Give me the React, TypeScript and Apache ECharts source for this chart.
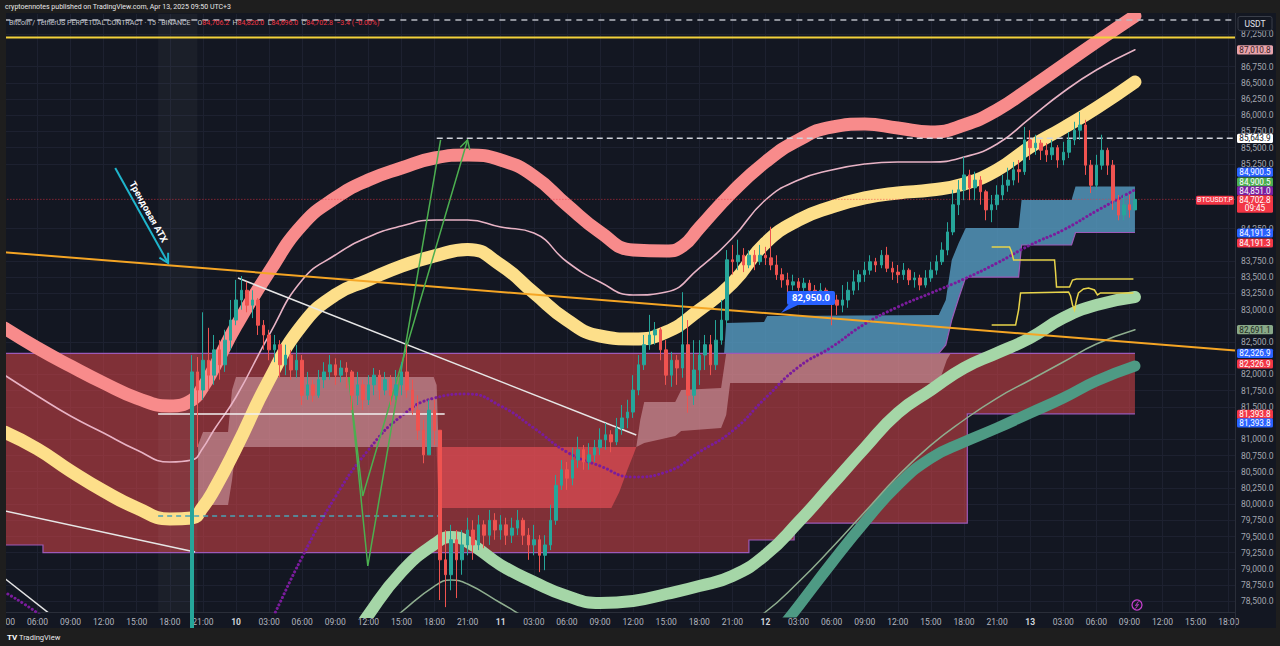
import React, { useEffect, useRef } from "react";
import * as echarts from "echarts";

// Time axis: hours counted from 2025-04-09 00:00 (UTC+3). Prices in USDT.
const X_MIN = 3;
const X_MAX = 114.57;
const Y_MIN = 78335;
const Y_MAX = 87563;

const timeTicks = [3, 6, 9, 12, 15, 18, 21, 24, 27, 30, 33, 36, 39, 42, 45, 48, 51, 54, 57, 60, 63, 66, 69, 72, 75, 78, 81, 84, 87, 90, 93, 96, 99, 102, 105, 108, 111, 114];
const dayLabels: Record<number, string> = { 24: "10", 48: "11", 72: "12", 96: "13" };
// scale labels that are not hidden behind the value badges
const priceTicks = [78500, 78750, 79000, 79250, 79500, 79750, 80000, 80250, 80500, 80750, 81000, 81500, 81750, 82000, 82500, 83000, 83250, 83500, 83750, 84250, 85250, 85500, 85750, 86000, 86250, 86500, 86750, 87250];

// BTCUSDT.P candles from Apr 9 20:00, one every 30 minutes: [close, low, high]; open = previous close
const candleStartHour = 20;
const candleStepHours = 0.5;
const firstOpen = 77100;
const candlesApr9 = [
  [82040, 76800, 82300], [81760, 80880, 82270], [82220, 81610, 82960], [81990, 81760, 82720],
  [82380, 81840, 82610], [82150, 81920, 82530], [82530, 82040, 82690], [82840, 82380, 83150],
];
const candlesApr10 = [
  [83150, 82760, 83460], [83300, 83000, 83520], [83070, 82960, 83430], [83150, 82870, 83300],
  [82760, 82610, 83180], [82610, 82380, 82840], [82380, 82220, 82690], [82460, 82190, 82610],
  [82150, 81950, 82530], [82300, 81990, 82460], [82070, 81920, 82380], [82220, 81950, 82460],
  [81680, 81530, 82300], [81840, 81610, 82040], [81680, 81580, 81920], [81920, 81640, 82070],
  [82040, 81790, 82190], [82150, 81920, 82300], [81990, 81840, 82250], [82100, 81880, 82220],
  [82040, 81790, 82190], [81680, 81450, 82070], [81840, 81530, 82040], [81610, 81450, 81920],
  [81840, 81530, 81990], [81990, 81680, 82100], [81760, 81610, 82070], [81920, 81680, 82040],
  [81680, 81530, 81990], [81840, 81610, 82070], [82040, 81680, 82190], [81760, 81640, 82460],
  [81450, 81380, 81920], [81140, 80990, 81680], [80760, 80630, 81300], [81450, 80760, 81610],
  [81140, 80910, 81610], [79140, 78520, 80990], [78910, 78410, 79600], [79450, 78670, 79680],
  [79140, 78550, 79600], [79370, 78910, 79600], [79600, 79210, 79790], [79370, 79140, 79750],
  [79680, 79290, 79830], [79520, 79320, 79750], [79750, 79370, 79910], [79600, 79450, 79860],
];
const candlesApr11 = [
  [79680, 79450, 79830], [79520, 79370, 79790], [79630, 79400, 79790], [79750, 79520, 79910],
  [79520, 79370, 79790], [79370, 79140, 79630], [79450, 79210, 79680], [79210, 78950, 79520],
  [79370, 78980, 79520], [79750, 79290, 79990], [80290, 79680, 80450], [80530, 80220, 80680],
  [80400, 80220, 80650], [80680, 80290, 80870], [80840, 80560, 81040], [80650, 80530, 80910],
  [80760, 80530, 80940], [80870, 80650, 80990], [80990, 80760, 81170], [81070, 80840, 81250],
  [80960, 80800, 81140], [81170, 80910, 81330], [81330, 81070, 81530], [81420, 81170, 81610],
  [81760, 81330, 81990], [82150, 81680, 82300], [82460, 82070, 82610], [82610, 82380, 82920],
  [82690, 82460, 82810], [82380, 82220, 82730], [81990, 81840, 82530], [82220, 81810, 82350],
  [82100, 81840, 82300], [82460, 81950, 83270], [81680, 81410, 82840], [82070, 81530, 82530],
  [82300, 81840, 82530], [82460, 82070, 82610], [82150, 81990, 82610], [82530, 82070, 82840],
  [82840, 82460, 83150], [83770, 82760, 83920], [83740, 83540, 84000], [83840, 83610, 84080],
  [83690, 83580, 83950], [83840, 83640, 83920], [83740, 83610, 83920], [83840, 83690, 84000],
];
const candlesApr12 = [
  [83800, 83690, 83970], [83690, 83610, 84280], [83540, 83460, 83840], [83460, 83340, 83640],
  [83380, 83270, 83570], [83430, 83300, 83540], [83340, 83230, 83490], [83410, 83260, 83490],
  [83300, 83210, 83460], [83260, 83150, 83380], [83300, 83180, 83410], [83210, 83150, 83340],
  [83150, 82760, 83270], [83070, 82920, 83230], [83150, 82960, 83380], [83300, 83030, 83430],
  [83430, 83230, 83610], [83540, 83300, 83610], [83610, 83430, 83740], [83740, 83540, 83840],
  [83690, 83580, 83800], [83840, 83640, 83920], [83640, 83580, 83970], [83580, 83460, 83740],
  [83540, 83410, 83690], [83610, 83460, 83720], [83460, 83380, 83640], [83490, 83340, 83580],
  [83380, 83300, 83540], [83490, 83340, 83610], [83610, 83430, 83740], [83740, 83540, 83840],
  [83920, 83690, 84040], [84200, 83840, 84350], [84620, 84150, 84850], [84850, 84460, 85000],
  [85080, 84690, 85360], [84880, 84690, 85160], [85000, 84690, 85130], [84820, 84620, 85060],
  [84540, 84380, 84850], [84620, 84350, 84770], [84770, 84540, 84920], [84920, 84690, 85080],
  [85000, 84820, 85190], [85160, 84920, 85280], [85130, 84960, 85310], [85620, 85080, 85820],
];
const candlesApr13 = [
  [85500, 85310, 85770], [85570, 85390, 85700], [85460, 85310, 85620], [85390, 85280, 85570],
  [85500, 85310, 85620], [85310, 85190, 85540], [85430, 85230, 85590], [85620, 85340, 85740],
  [85770, 85540, 85900], [85850, 85620, 86050], [85230, 85080, 85930], [84920, 84800, 85310],
  [85230, 84850, 85390], [85460, 85160, 85700], [85230, 85080, 85500], [84690, 84540, 85310],
  [84460, 84380, 84770], [84620, 84380, 84770], [84540, 84420, 84770], [84702.8, 84590, 84820],
];

// Envelope bands and moving average: [hour, price]
const upperOuter = [
  [3, 82717], [6, 82409], [9, 82131], [12, 81869], [15, 81637], [18, 81514], [20, 81606], [21, 81807],
  [22, 82100], [24, 82748], [27, 83581], [30, 84307], [33, 84724], [36, 85001], [39, 85186], [42, 85341],
  [45, 85387], [48, 85310], [51, 85063], [54, 84615], [57, 84197], [60, 83921], [63, 83905], [64.5, 83983],
  [66, 84261], [69, 84816], [72, 85279], [75, 85619], [78, 85819], [81, 85865], [84, 85804], [87, 85742],
  [90, 85850], [93, 86082], [96, 86421], [99, 86776], [102, 87131], [105.5, 87532],
];
const upperInner = [
  [3, 81992], [6, 81668], [9, 81359], [12, 81097], [15, 80835], [18, 80649], [20, 80680], [21, 80866],
  [22, 81143], [24, 81653], [27, 82609], [30, 83458], [33, 83844], [36, 84122], [39, 84291], [42, 84384],
  [45, 84384], [48, 84276], [51, 84183], [54, 83740], [57, 83427], [60, 83227], [63, 83273], [66, 83643],
  [69, 84107], [72, 84693], [75, 85001], [78, 85156], [81, 85248], [84, 85279], [87, 85279], [90, 85356],
  [93, 85557], [96, 85958], [99, 86359], [102, 86699], [105.5, 87010.8],
];
const midBand = [
  [3, 81112], [6, 80850], [9, 80511], [12, 80202], [15, 79940], [18, 79770], [20, 79785], [21, 79955],
  [22, 80217], [24, 80866], [27, 81915], [30, 82764], [33, 83227], [36, 83458], [39, 83674], [42, 83830],
  [45, 83930], [48, 83690], [51, 83260], [54, 82841], [57, 82594], [60, 82548], [63, 82655], [66, 82995],
  [69, 83412], [72, 84029], [75, 84384], [78, 84585], [81, 84724], [84, 84801], [87, 84847], [90, 84940],
  [93, 85156], [96, 85510], [99, 85804], [102, 86112], [105.5, 86514],
];
const lowerInner = [
  [33, 77517], [36, 78288], [39, 78952], [42, 79384], [43.5, 79492], [45, 79415], [48, 79060], [51, 78798],
  [54, 78582], [57, 78474], [60, 78505], [63, 78613], [66, 78736], [69, 78891], [72, 79215], [75, 79724],
  [78, 80294], [81, 80866], [84, 81406], [87, 81761], [90, 82100], [93, 82332], [96, 82563], [99, 82872],
  [102, 83072], [105.5, 83196],
];
const lowerThin = [
  [36, 77903], [39, 78335], [42, 78736], [43.5, 78828], [45, 78767], [48, 78474], [51, 78180], [54, 77933],
  [57, 77779], [60, 77748], [63, 77779], [66, 77871], [69, 78026], [72, 78335], [75, 78798], [78, 79322],
  [81, 79878], [84, 80433], [87, 80911], [90, 81298], [93, 81637], [96, 81915], [99, 82193], [102, 82470],
  [105.5, 82691.1],
];
const lowerOuter = [
  [69, 77131], [72, 77779], [75, 78427], [78, 79091], [81, 79724], [84, 80294], [87, 80711], [90, 80958],
  [93, 81174], [96, 81406], [99, 81637], [102, 81899], [105.5, 82131],
];
const trendMA = [
  [3, 78643], [6, 78319], [9, 77903], [12, 77470], [15, 77131], [18, 76899], [21, 76791], [24, 77131],
  [27, 78134], [30, 79183], [33, 80109], [36, 80835], [39, 81359], [42, 81637], [45, 81699], [48, 81514],
  [51, 81174], [54, 80804], [57, 80588], [60, 80418], [63, 80495], [66, 80804], [69, 81128], [72, 81637],
  [75, 82116], [78, 82424], [81, 82779], [84, 83042], [87, 83257], [90, 83473], [93, 83720], [96, 83998],
  [99, 84230], [102, 84523], [105.5, 84851],
];

// Supply zone: flat top, stepped bottom [from hour, price]
const zoneTop = 82326.9;
const zoneBottomSteps = [[3, 79369], [6.5, 79250], [70.5, 79446], [74.6, 79708], [90.3, 81393.8]];
const zoneEnd = 105.5;

// Trailing clouds: [hour, lower, upper]
const cloudBearLeft = [
  [20.56, 79986, 80912], [21.01, 79986, 81112], [23.28, 79986, 81112], [23.64, 80372, 81761],
  [24.0, 80880, 81961], [41.92, 80880, 81961], [42.19, 80880, 81838], [42.37, 80880, 80880],
];
const cloudBearDeep = [
  [42.19, 80835, 80880], [42.37, 79940, 80880], [58.03, 79940, 80880], [58.75, 80186, 80880],
  [59.48, 80526, 80880], [60.02, 80757, 80880], [60.29, 80880, 80880],
];
const cloudBearRight = [
  [60.29, 80880, 80880], [60.65, 80912, 81298], [61.01, 80943, 81575], [63.82, 81051, 81575],
  [64.36, 81128, 81761], [67.98, 81174, 81791], [68.44, 81375, 82327], [68.8, 81869, 82327],
  [87.71, 81869, 82327], [88.44, 82224, 82327], [88.8, 82327, 82327],
];
const cloudBull = [
  [68.25, 82327, 82327], [68.44, 82327, 82795], [71.87, 82327, 82810], [72.15, 82327, 82903],
  [87.71, 82327, 82918], [88.35, 82455, 83150], [88.89, 82841, 83767], [89.52, 83180, 84029],
  [90.16, 83504, 84261], [94.95, 83504, 84261], [95.22, 83998, 84693], [99.75, 83998, 84693],
  [100.11, 84191.3, 84900.5], [105.5, 84191.3, 84900.5],
];
const sessionShade = [16.94, 20.5];

// Hand-drawn lines: [hour, price]
const trendOrange = [[2.64, 83891], [114.57, 82370]];
const whiteTrend1 = [[24.18, 83489], [60.29, 81066]];
const whiteTrend2 = [[2.64, 79909], [20.29, 79261]];
const whiteTrend3 = [[2.64, 78906], [8.98, 78057]];
const whiteLevel = [[16.94, 81391], [42.92, 81391]];
const cyanLevel = [[16.94, 79817], [42.47, 79817]];
const greenPathA = [[34.23, 81961], [35.49, 80125], [44.99, 85619]];
const greenPathB = [[34.23, 81961], [35.95, 79045], [42.55, 85619]];
const atxArrow = [[13.05, 85186], [17.85, 83720]];
const yellowStep1 = [
  [92.51, 83967], [94.13, 83967], [94.32, 83890], [94.5, 83767], [98.21, 83767], [98.3, 83581],
  [98.39, 83350], [99.57, 83350], [99.84, 83458], [100.2, 83474], [105.36, 83474],
];
const yellowStep2 = [
  [92.51, 82764], [94.68, 82764], [94.95, 82995], [95.13, 83258], [99.48, 83273], [99.66, 83211],
  [99.84, 83072], [100.02, 82995], [100.2, 83149], [100.38, 83258], [100.83, 83319], [101.29, 83335],
  [101.83, 83304], [102.1, 83227], [102.37, 83258], [105.36, 83258],
];

// Horizontal levels
const lastPrice = 84702.8;
const highLevel = 85643.9;
const highLevelStart = 42.2;
const topLevel = 87470;
const yellowLevel = 87200;
const calloutPoint = [73.41, 82950];

// Price-scale badges: value and badge kind
const badgeValues = [87010.8, 85643.9, 84900.5, 84900.5, 84851.0, 84191.3, 84191.3, 82691.1, 82326.9, 82326.9, 81393.8, 81393.8];
const badgeKinds = ["pink", "white", "blue", "green", "purple", "blue", "red", "sage", "blue", "red", "red", "blue"];

const FONT = "Roboto, 'Noto Sans', sans-serif";

const fmtPrice = (v: number) => {
  const [i, d] = v.toFixed(1).split(".");
  return i.replace(/\B(?=(\d{3})+(?!\d))/g, ",") + "." + d;
};

function buildCandles() {
  const all = [...candlesApr9, ...candlesApr10, ...candlesApr11, ...candlesApr12, ...candlesApr13];
  let prev = firstOpen;
  return all.map(([c, l, h], i) => {
    const o = prev;
    prev = c;
    return [candleStartHour + i * candleStepHours, o, c, Math.min(l, o, c), Math.max(h, o, c)];
  });
}

function stepLine(steps: number[][], end: number) {
  const out: number[][] = [];
  steps.forEach(([t, v], i) => {
    const next = i + 1 < steps.length ? steps[i + 1][0] : end;
    out.push([t, v], [next, v]);
  });
  return out;
}

// polygon between an upper and a lower polyline, both in data coordinates
function areaSeries(upper: number[][], lower: number[][], fill: string, z: number) {
  return {
    type: "custom",
    z,
    silent: true,
    clip: true,
    data: [[upper[0][0], upper[0][1]]],
    encode: { x: 0, y: 1 },
    renderItem: (_p: any, api: any) => {
      const top = upper.map((p) => api.coord(p));
      const bot = lower.map((p) => api.coord(p)).reverse();
      return { type: "polygon", shape: { points: top.concat(bot) }, style: { fill } };
    },
  };
}

function cloudSeries(pts: number[][], fill: string, z: number) {
  return areaSeries(pts.map((p) => [p[0], p[2]]), pts.map((p) => [p[0], p[1]]), fill, z);
}

function bandLine(data: number[][], color: string, width: number, z: number, extra: any = {}) {
  return {
    type: "line",
    data,
    z,
    silent: true,
    smooth: 0.5,
    showSymbol: false,
    symbol: "none",
    lineStyle: { color, width, cap: "round", join: "round", ...extra },
  };
}

type Stroke = { pts: number[][]; color: string; width: number; dash?: number[]; arrow?: boolean };

function strokesSeries(strokes: Stroke[], z: number, extras?: (api: any) => any[]) {
  return {
    type: "custom",
    z,
    silent: true,
    clip: true,
    data: [[strokes[0].pts[0][0], strokes[0].pts[0][1]]],
    encode: { x: 0, y: 1 },
    renderItem: (_p: any, api: any) => {
      const children: any[] = [];
      strokes.forEach((s) => {
        const px = s.pts.map((p) => api.coord(p));
        children.push({
          type: "polyline",
          shape: { points: px },
          style: { stroke: s.color, lineWidth: s.width, lineDash: s.dash || null, fill: null },
        });
        if (s.arrow) {
          const a = px[px.length - 1];
          const b = px[px.length - 2];
          const dx = a[0] - b[0];
          const dy = a[1] - b[1];
          const len = Math.hypot(dx, dy) || 1;
          const ux = dx / len;
          const uy = dy / len;
          const back = 9;
          const side = 5;
          children.push({
            type: "polyline",
            shape: {
              points: [
                [a[0] - ux * back - uy * side, a[1] - uy * back + ux * side],
                a,
                [a[0] - ux * back + uy * side, a[1] - uy * back - ux * side],
              ],
            },
            style: { stroke: s.color, lineWidth: s.width, fill: null },
          });
        }
      });
      if (extras) children.push(...extras(api));
      return { type: "group", children };
    },
  };
}

export default function App() {
  const ref = useRef<HTMLDivElement>(null);

  useEffect(() => {
    document.body.style.margin = "0";
    const el = ref.current;
    if (!el) return;
    const chart = echarts.init(el, null, { renderer: "svg" });

    const candles = buildCandles();
    const zoneBottom = stepLine(zoneBottomSteps, zoneEnd);
    const zoneUpper = [[X_MIN, zoneTop], [zoneEnd, zoneTop]];
    const bullBorder = cloudBull.slice(4).map((p) => [p[0], p[1]]);

    const annotation = (api: any) => {
      const a = api.coord(atxArrow[0]);
      const b = api.coord(atxArrow[1]);
      const dx = b[0] - a[0];
      const dy = b[1] - a[1];
      const len = Math.hypot(dx, dy);
      const mx = (a[0] + b[0]) / 2 + (dy / len) * 8;
      const my = (a[1] + b[1]) / 2 - (dx / len) * 8;
      const tip = api.coord(calloutPoint);
      return [
        {
          type: "text",
          x: mx,
          y: my,
          rotation: -Math.atan2(dy, dx),
          style: { text: "Трендовая ATX", fill: "#ffffff", fontSize: 9.5, fontWeight: "bold", fontFamily: FONT, align: "center", verticalAlign: "middle" },
        },
        {
          type: "polygon",
          shape: { points: [tip, [tip[0] + 7, tip[1] - 8], [tip[0] + 17, tip[1] - 8]] },
          style: { fill: "#2962ff" },
        },
        {
          type: "rect",
          shape: { x: tip[0] + 6, y: tip[1] - 22, width: 48, height: 14, r: 2 },
          style: { fill: "#2962ff" },
        },
        {
          type: "text",
          x: tip[0] + 30,
          y: tip[1] - 15,
          style: { text: fmtPrice(calloutPoint[1]), fill: "#ffffff", fontSize: 9.5, fontWeight: "bold", fontFamily: FONT, align: "center", verticalAlign: "middle" },
        },
      ];
    };

    const option: any = {
      animation: false,
      backgroundColor: "#1e1e1e",
      grid: { left: 4.37, right: 45, top: 14, bottom: 34, outerBoundsMode: "none", containLabel: false },
      tooltip: { show: false },
      xAxis: {
        type: "value",
        min: X_MIN,
        max: X_MAX,
        axisLine: { show: true, lineStyle: { color: "#2a2e39" } },
        axisTick: { show: false, customValues: timeTicks },
        axisLabel: {
          customValues: timeTicks,
          color: "#b2b5be",
          fontSize: 8.5,
          fontFamily: FONT,
          margin: 5,
          formatter: (v: number) => {
            const r = Math.round(v);
            if (dayLabels[r]) return `{day|${dayLabels[r]}}`;
            return `${String(r % 24).padStart(2, "0")}:00`;
          },
          rich: { day: { color: "#d1d4dc", fontWeight: "bold", fontSize: 8.5, fontFamily: FONT } },
        },
        splitLine: { show: true, lineStyle: { color: "#1d2130", width: 1 } },
      },
      yAxis: {
        type: "value",
        position: "right",
        min: Y_MIN,
        max: Y_MAX,
        axisLine: { show: false },
        axisTick: { show: false, customValues: priceTicks },
        axisLabel: { customValues: priceTicks, color: "#a3a6af", fontSize: 8.5, fontFamily: FONT, margin: 6, formatter: (v: number) => fmtPrice(v) },
        splitLine: { show: true, lineStyle: { color: "#1d2130", width: 1 } },
      },
      series: [
        areaSeries(zoneUpper, zoneBottom, "rgba(219,70,72,0.55)", 1),
        cloudSeries([[sessionShade[0], Y_MIN, Y_MAX], [sessionShade[1], Y_MIN, Y_MAX]], "rgba(255,255,255,0.035)", 1.2),
        cloudSeries(cloudBearLeft, "rgba(230,190,200,0.45)", 1.4),
        cloudSeries(cloudBearDeep, "rgba(240,82,88,0.6)", 1.4),
        cloudSeries(cloudBearRight, "rgba(230,190,200,0.45)", 1.4),
        cloudSeries(cloudBull, "rgba(88,160,200,0.78)", 1.4),
        strokesSeries(
          [
            { pts: zoneUpper, color: "#9c5ab8", width: 1.2 },
            { pts: zoneBottom, color: "#9c5ab8", width: 1.2 },
            { pts: bullBorder, color: "#9c5ab8", width: 1.2 },
          ],
          1.6
        ),
        bandLine(lowerOuter, "#4e9a84", 11, 3),
        bandLine(lowerThin, "#8fae8f", 1.5, 3),
        bandLine(lowerInner, "#a5d6a7", 12, 3),
        bandLine(upperOuter, "#f88b8b", 13, 3),
        bandLine(upperInner, "#e8b3c5", 1.6, 3),
        bandLine(midBand, "#fddf8a", 13, 3),
        bandLine(trendMA, "#7a1c9c", 3, 3.5, { type: [0.1, 4] }),
        strokesSeries(
          [
            { pts: trendOrange, color: "#f5a524", width: 2 },
            { pts: whiteTrend1, color: "#e6e6e6", width: 1.5 },
            { pts: whiteTrend2, color: "#e6e6e6", width: 1.5 },
            { pts: whiteTrend3, color: "#e6e6e6", width: 1.5 },
            { pts: whiteLevel, color: "#f0f0f0", width: 1.5 },
            { pts: cyanLevel, color: "#4aa3b5", width: 1.5, dash: [5, 4] },
            { pts: greenPathA, color: "#4caf50", width: 1.5, arrow: true },
            { pts: greenPathB, color: "#4caf50", width: 1.5 },
            { pts: atxArrow, color: "#1fb5cc", width: 2, arrow: true },
            { pts: yellowStep1, color: "#e8d44a", width: 1.5 },
            { pts: yellowStep2, color: "#e8d44a", width: 1.5 },
            { pts: [[highLevelStart, highLevel], [X_MAX, highLevel]], color: "#d1d4dc", width: 1.5, dash: [6, 4] },
            { pts: [[X_MIN, topLevel], [X_MAX, topLevel]], color: "#b8bbc2", width: 1.5, dash: [6, 5] },
            { pts: [[X_MIN, yellowLevel], [X_MAX, yellowLevel]], color: "#f2d13a", width: 2 },
            { pts: [[X_MIN, lastPrice], [X_MAX, lastPrice]], color: "rgba(242,54,69,0.75)", width: 1, dash: [1, 2] },
          ],
          4
        ),
        {
          type: "candlestick",
          z: 5,
          silent: true,
          dimensions: ["t", "open", "close", "low", "high"],
          encode: { x: "t", y: ["open", "close", "low", "high"] },
          data: candles,
          barWidth: 3,
          itemStyle: { color: "#26a69a", color0: "#ef5350", borderColor: "#26a69a", borderColor0: "#ef5350", borderWidth: 1 },
        },
        strokesSeries([{ pts: [calloutPoint, calloutPoint], color: "rgba(0,0,0,0)", width: 0 }], 6, annotation),
      ],
    };
    chart.setOption(option);

    const yOf = (p: number) => chart.convertToPixel({ yAxisIndex: 0 }, p) as number;
    const kindStyle: Record<string, [string, string]> = {
      pink: ["#e8a3ab", "#3b1f25"],
      white: ["#ffffff", "#131722"],
      blue: ["#2962ff", "#ffffff"],
      green: ["#4caf50", "#ffffff"],
      purple: ["#7b1fa2", "#ffffff"],
      red: ["#f23645", "#ffffff"],
      sage: ["#88a888", "#1c2a1c"],
    };
    // stacked badges are nudged apart like on the price scale
    const badgeNudges = [0, 0, -14.5, -4.5, 1, 0.5, 10.5, 0, 0, 10.5, 0.5, 9];

    const els: any[] = [];
    const badge = (yc: number, bg: string, fg: string, text: string) => {
      els.push({ type: "rect", z: 210, shape: { x: 1237, y: yc - 4.6, width: 36, height: 9.2, r: 1.5 }, style: { fill: bg } });
      els.push({ type: "text", z: 211, x: 1255, y: yc, style: { text, fill: fg, fontSize: 8.2, fontFamily: FONT, align: "center", verticalAlign: "middle" } });
    };

    // pane background and frame
    els.push({ type: "rect", z: -10, shape: { x: 0, y: 13, width: 1280, height: 615 }, style: { fill: "#131722" } });
    els.push({ type: "rect", z: 200, shape: { x: 0, y: 0, width: 1280, height: 13 }, style: { fill: "#1e1e1e" } });
    els.push({ type: "rect", z: 200, shape: { x: 0, y: 0, width: 6, height: 646 }, style: { fill: "#1e1e1e" } });
    els.push({ type: "rect", z: 200, shape: { x: 1276, y: 0, width: 4, height: 646 }, style: { fill: "#1e1e1e" } });
    els.push({ type: "rect", z: 200, shape: { x: 0, y: 628, width: 1280, height: 18 }, style: { fill: "#1e1e1e" } });
    els.push({ type: "line", z: 150, shape: { x1: 1235.5, y1: 13, x2: 1235.5, y2: 628 }, style: { stroke: "#2a2e39", lineWidth: 1 } });

    els.push({
      type: "text", z: 201, x: 5, y: 6.5,
      style: { text: "cryptoennotes published on TradingView.com, Apr 13, 2025 09:50 UTC+3", fill: "#e8e8e8", fontSize: 7, fontFamily: FONT, verticalAlign: "middle" },
    });
    els.push({
      type: "text", z: 201, x: 9, y: 22.5,
      style: {
        text: "{t|Bitcoin / TetherUS PERPETUAL CONTRACT · 15 · BINANCE}  {k|O}{v|84,706.2} {k|H}{v|84,820.0} {k|L}{v|84,696.0} {k|C}{v|84,702.8} {v|−3.4 (−0.00%)}",
        verticalAlign: "middle",
        rich: {
          t: { fill: "#c4c7cf", fontSize: 7, fontFamily: FONT },
          k: { fill: "#c4c7cf", fontSize: 7, fontFamily: FONT },
          v: { fill: "#f23645", fontSize: 7, fontFamily: FONT },
        },
      },
    });
    els.push({ type: "text", z: 201, x: 7, y: 637, style: { text: "TV", fill: "#ffffff", fontSize: 8, fontWeight: "bold", fontFamily: FONT, verticalAlign: "middle" } });
    els.push({ type: "text", z: 201, x: 19, y: 637, style: { text: "TradingView", fill: "#e8e8e8", fontSize: 7.5, fontFamily: FONT, verticalAlign: "middle" } });

    // currency box
    els.push({ type: "rect", z: 210, shape: { x: 1238, y: 16.5, width: 34, height: 14, r: 2 }, style: { fill: "#131722", stroke: "#3a3e49", lineWidth: 1 } });
    els.push({ type: "text", z: 211, x: 1255, y: 23.5, style: { text: "USDT", fill: "#e0e3eb", fontSize: 8.5, fontFamily: FONT, align: "center", verticalAlign: "middle" } });

    badgeValues.forEach((v, i) => {
      const [bg, fg] = kindStyle[badgeKinds[i]];
      badge(yOf(v) + badgeNudges[i], bg, fg, fmtPrice(v));
    });

    // last price badge with countdown and symbol tag
    const yLast = yOf(lastPrice);
    els.push({ type: "rect", z: 210, shape: { x: 1237, y: yLast - 4, width: 36, height: 17.5, r: 1.5 }, style: { fill: "#f23645" } });
    els.push({ type: "text", z: 211, x: 1255, y: yLast + 0.6, style: { text: fmtPrice(lastPrice), fill: "#ffffff", fontSize: 8.2, fontFamily: FONT, align: "center", verticalAlign: "middle" } });
    els.push({ type: "text", z: 211, x: 1255, y: yLast + 9, style: { text: "09:45", fill: "#ffffff", fontSize: 8.2, fontFamily: FONT, align: "center", verticalAlign: "middle" } });
    els.push({ type: "rect", z: 210, shape: { x: 1196, y: yLast - 3.5, width: 38, height: 9, r: 1.5 }, style: { fill: "#f23645" } });
    els.push({ type: "text", z: 211, x: 1215, y: yLast + 1, style: { text: "BTCUSDT.P", fill: "#ffffff", fontSize: 7, fontFamily: FONT, align: "center", verticalAlign: "middle" } });

    // replay marker near the time scale
    els.push({ type: "circle", z: 150, shape: { cx: 1137, cy: 605, r: 5 }, style: { fill: "none", stroke: "#c03fc8", lineWidth: 1.3 } });
    els.push({ type: "polyline", z: 150, shape: { points: [[1138.5, 601.5], [1135.5, 605.5], [1138.5, 604.5], [1135.5, 608.5]] }, style: { fill: null, stroke: "#c03fc8", lineWidth: 1 } });

    chart.setOption({ graphic: { elements: els } });

    return () => chart.dispose();
  }, []);

  return <div ref={ref} style={{ position: "fixed", left: 0, top: 0, width: 1280, height: 646 }} />;
}
